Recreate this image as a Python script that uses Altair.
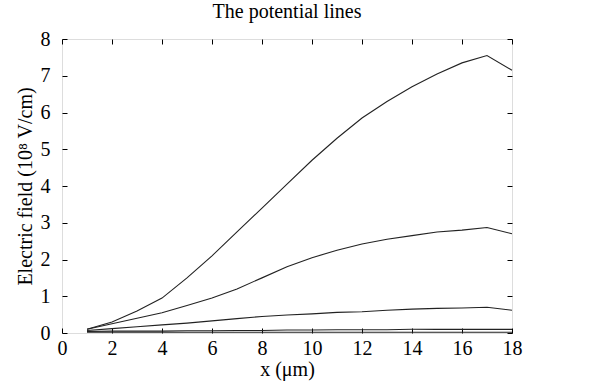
import altair as alt
import pandas as pd

x_vals = list(range(1, 19))
s1 = [0.10, 0.30, 0.60, 0.95, 1.50, 2.10, 2.75, 3.40, 4.05, 4.70, 5.30, 5.85, 6.30, 6.70, 7.05, 7.35, 7.55, 7.15]
s2 = [0.10, 0.25, 0.40, 0.55, 0.75, 0.95, 1.20, 1.50, 1.80, 2.05, 2.25, 2.42, 2.55, 2.65, 2.75, 2.80, 2.87, 2.70]
s3 = [0.07, 0.12, 0.17, 0.22, 0.27, 0.33, 0.39, 0.45, 0.49, 0.52, 0.56, 0.58, 0.62, 0.65, 0.67, 0.68, 0.70, 0.62]
s4 = [0.04, 0.05, 0.05, 0.05, 0.06, 0.06, 0.07, 0.07, 0.08, 0.08, 0.09, 0.09, 0.09, 0.10, 0.10, 0.10, 0.10, 0.10]
s5 = [0.02, 0.02, 0.02, 0.02, 0.02, 0.02, 0.02, 0.02, 0.02, 0.02, 0.02, 0.02, 0.02, 0.02, 0.02, 0.02, 0.02, 0.02]

rows = []
for name, s in [("s1", s1), ("s2", s2), ("s3", s3), ("s4", s4), ("s5", s5)]:
    for xv, yv in zip(x_vals, s):
        rows.append({"x": xv, "y": yv, "series": name})
df = pd.DataFrame(rows)

FONT = "Liberation Serif"
xticks = list(range(0, 19, 2))
yticks = list(range(0, 9))

xscale = alt.Scale(domain=[0, 18], nice=False, zero=False)
yscale = alt.Scale(domain=[0, 8], nice=False)

common_axis = dict(domain=False, offset=-5, tickSize=5, tickColor="black",
                   grid=False, labelFlush=False, labelFont=FONT, labelFontSize=20,
                   labelColor="black", titleFont=FONT, titleFontSize=20,
                   titleColor="black", titleFontWeight="normal")

main = alt.Chart(df).mark_line(strokeWidth=1.1, color="#222").encode(
    x=alt.X("x:Q", scale=xscale,
            axis=alt.Axis(orient="bottom", values=xticks, title="x (μm)",
                          labelPadding=5, titlePadding=1, **common_axis)),
    y=alt.Y("y:Q", scale=yscale,
            axis=alt.Axis(orient="left", values=yticks, title="Electric field (10⁸ V/cm)",
                          labelPadding=12, titlePadding=5, **common_axis)),
    detail="series:N",
)

mirror = alt.Chart(df).mark_line(opacity=0).encode(
    x=alt.X("x:Q", scale=xscale,
            axis=alt.Axis(orient="top", values=xticks, title=None, labels=False, **common_axis)),
    y=alt.Y("y:Q", scale=yscale,
            axis=alt.Axis(orient="right", values=yticks, title=None, labels=False, **common_axis)),
    detail="series:N",
)

chart = alt.layer(main, mirror).resolve_axis(x="independent", y="independent").properties(
    width=450, height=294,
    title=alt.TitleParams("The potential lines", font=FONT, fontSize=20,
                          fontWeight="normal", color="black", offset=7),
    autosize=alt.AutoSizeParams(type="none"),
    padding={"left": 62, "top": 39, "right": 94, "bottom": 51},
).configure_view(stroke="black", strokeWidth=1).configure(background="white")

chart.save("out.html", embed_options={"renderer": "svg", "actions": False})
